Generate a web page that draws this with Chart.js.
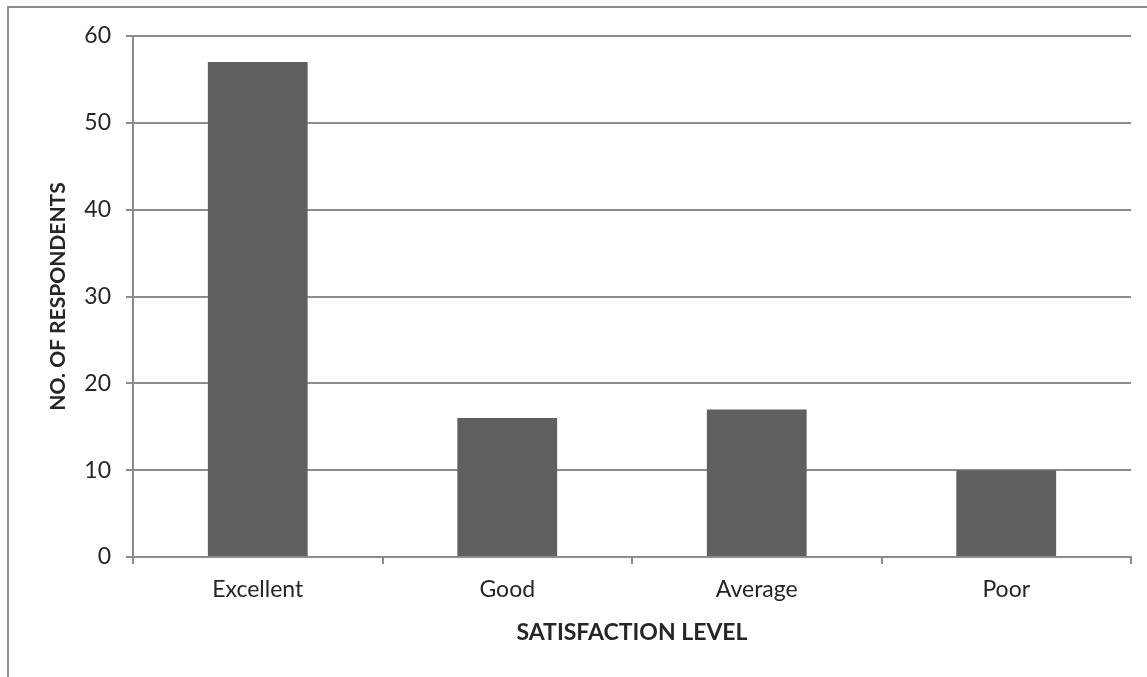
<!DOCTYPE html>
<html>
<head>
<meta charset="utf-8">
<script src="https://cdn.jsdelivr.net/npm/chart.js@4/dist/chart.umd.min.js"></script>
<style>
  html, body { margin: 0; padding: 0; background: #fff; }
  #wrap { width: 1147px; height: 677px; position: relative; }
</style>
</head>
<body>
<div id="wrap"><canvas id="grafik"></canvas></div>
<script>
// data
const kategoriler = ["Excellent", "Good", "Average", "Poor"];
const degerler = [57, 16, 17, 10];
const yTikleri = [0, 10, 20, 30, 40, 50, 60];

const gri = "#8c8c8c";
const yazi = "#262626";
const font = "Lato, 'Open Sans', sans-serif";

// outer chart border (only top and left show inside the window)
const cerceve = {
  id: "cerceve",
  beforeDraw(chart) {
    const c = chart.ctx;
    c.save();
    c.strokeStyle = gri;
    c.lineWidth = 2;
    c.strokeRect(8, 7, 1160, 700);
    c.restore();
  }
};

new Chart(document.getElementById("grafik"), {
  type: "bar",
  data: {
    labels: kategoriler,
    datasets: [{
      data: degerler,
      backgroundColor: "#606060",
      barPercentage: 0.4,
      categoryPercentage: 1
    }]
  },
  plugins: [cerceve],
  options: {
    responsive: true,
    maintainAspectRatio: false,
    animation: false,
    layout: { padding: { top: 36, right: 16, left: 0, bottom: 0 } },
    plugins: { legend: { display: false }, tooltip: { enabled: false } },
    scales: {
      x: {
        afterFit: s => { s.height = 120; },
        grid: { drawOnChartArea: false, color: gri, lineWidth: 2, tickLength: 7, offset: true },
        border: { color: gri, width: 2 },
        ticks: { color: yazi, font: { family: font, size: 23 }, padding: 12 },
        title: {
          display: true, text: "SATISFACTION LEVEL", color: yazi,
          font: { family: font, size: 23, weight: "bold" },
          padding: { top: 0, bottom: 31 }
        }
      },
      y: {
        min: 0, max: 60,
        afterFit: s => { s.width = 133; },
        afterBuildTicks: s => { s.ticks = yTikleri.map(v => ({ value: v })); },
        grid: { color: gri, lineWidth: 2, tickLength: 7 },
        border: { color: gri, width: 2 },
        ticks: { color: yazi, font: { family: font, size: 23 }, padding: 15 },
        title: {
          display: true, text: "NO. OF RESPONDENTS", color: yazi,
          font: { family: font, size: 21, weight: "bold" },
          padding: { top: 46, bottom: 0 }
        }
      }
    }
  }
});
</script>
</body>
</html>
